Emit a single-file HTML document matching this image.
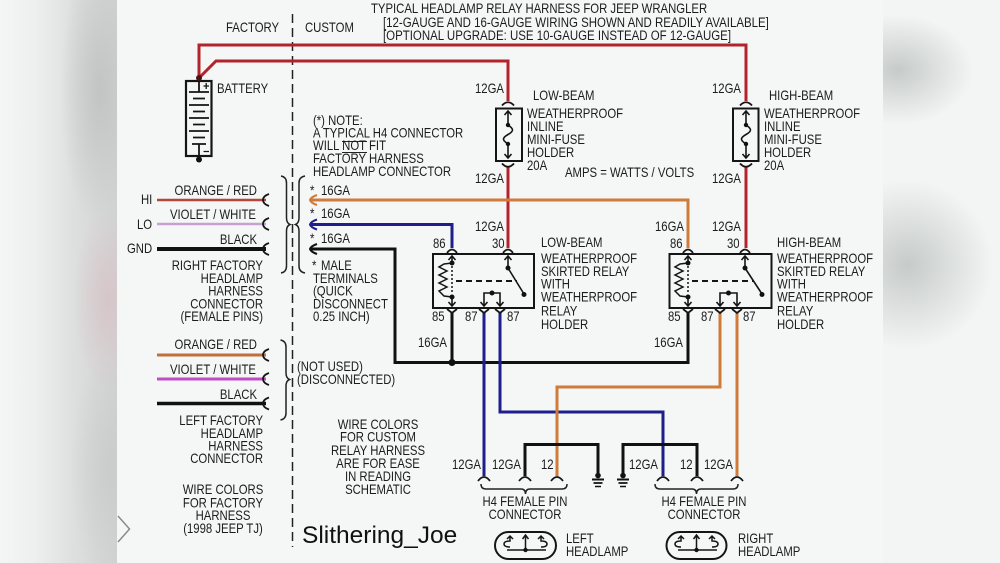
<!DOCTYPE html>
<html><head><meta charset="utf-8">
<style>
html,body{margin:0;padding:0;width:1000px;height:563px;overflow:hidden;background:#f2f5f3}
.lp{position:absolute;left:0;top:0;width:117px;height:563px;
background:
radial-gradient(ellipse 35px 90px at 108px 300px, rgba(214,196,200,.9), rgba(214,196,200,0)),
radial-gradient(ellipse 40px 140px at 100px 90px, rgba(192,193,193,.9), rgba(192,193,193,0)),
radial-gradient(ellipse 40px 120px at 110px 470px, rgba(200,201,201,.8), rgba(200,201,201,0)),
linear-gradient(90deg,#f4f5f5 0%,#eeefef 30%,#dddede 65%,#d2d3d3 100%);}
.rp{position:absolute;left:883px;top:0;width:117px;height:563px;
background:
radial-gradient(ellipse 75px 55px at 15px 70px, rgba(196,200,199,.95), rgba(196,200,199,0)),
radial-gradient(ellipse 85px 85px at 25px 265px, rgba(196,200,199,.95), rgba(196,200,199,0)),
#f2f5f3;}
svg{position:absolute;left:0;top:0}
text{font-family:"Liberation Sans",Arial,sans-serif;font-size:13.5px;fill:#1c1c1c}
.k{fill:none;stroke:#151515;stroke-width:2}
.c{fill:none;stroke:#151515;stroke-width:1.8}
</style></head><body>
<div class="lp"></div><div class="rp"></div>
<svg width="1000" height="563" viewBox="0 0 1000 563">
<rect x="117" y="0" width="766" height="563" fill="#f4f7f5"/>
<!-- chevron -->
<path d="M118 516 L129.5 529 L118 542" fill="none" stroke="#8a8a8a" stroke-width="1.5"/>
<!-- divider -->
<path d="M292.5 14 V547" stroke="#222" stroke-width="1.5" stroke-dasharray="9 5"/>

<!-- red wires -->
<g fill="none" stroke="#b3232b" stroke-width="3">
<path d="M199 78 L199 45 L746 45 L746 101"/>
<path d="M199 78 L216 61 L508 61 L508 101"/>
<path d="M508 167 V248"/>
<path d="M746 167 V248"/>
</g>
<!-- factory wires -->
<g fill="none">
<path d="M157 200 H266" stroke="#b5463c" stroke-width="2.5"/>
<path d="M157 224 H266" stroke="#c8a0d2" stroke-width="2.5"/>
<path d="M157 249 H266" stroke="#111" stroke-width="4"/>
<path d="M157 355 H266" stroke="#c0703c" stroke-width="3"/>
<path d="M157 379 H266" stroke="#c04cc6" stroke-width="3"/>
<path d="M157 403.5 H266" stroke="#111" stroke-width="3.5"/>
</g>
<!-- factory terminals -->
<g class="c" stroke-width="2">
<path d="M269 194 Q263 196 263 200 Q263 204 269 206"/>
<path d="M269 218 Q263 220 263 224 Q263 228 269 230"/>
<path d="M269 243 Q263 245 263 249 Q263 253 269 255"/>
<path d="M269 349 Q263 351 263 355 Q263 359 269 361"/>
<path d="M269 373 Q263 375 263 379 Q263 383 269 385"/>
<path d="M269 397.5 Q263 399.5 263 403.5 Q263 407.5 269 409.5"/>
</g>
<!-- braces -->
<g fill="none" stroke="#222" stroke-width="1.5">
<path d="M281 176 Q286.5 177 286.5 183 V218 Q286.5 223 290 224.5 Q286.5 226 286.5 231 V266 Q286.5 272 281 273"/>
<path d="M305 176 Q299 177 299 183 V218 Q299 223 295.5 224.5 Q299 226 299 231 V266 Q299 272 305 273"/>
<path d="M280.5 340 Q286 341 286 347 V373 Q286 378 289.5 379.5 Q286 381 286 386 V413 Q286 419 280.5 420"/>
</g>

<!-- custom wires -->
<g fill="none" stroke-width="3">
<path d="M311 200 H688 V248" stroke="#d07b3a"/>
<path d="M311 224.5 H452 V248" stroke="#1e1e8c"/>
<path d="M311 249 H395 V362.5 H688 V313" stroke="#111"/>
<path d="M452 313 V362.5" stroke="#111"/>
<path d="M484 313 V476" stroke="#1e1e8c"/>
<path d="M500 313 V412 H663 V476" stroke="#1e1e8c"/>
<path d="M720 313 V387 H557 V476" stroke="#d07b3a"/>
<path d="M737 313 V476" stroke="#d07b3a"/>
<path d="M525 476 V444.5 H598 V473" stroke="#111"/>
<path d="M623 473 V444.5 H697 V476" stroke="#111"/>
</g>
<circle cx="452" cy="362.5" r="3.5" fill="#111"/>
<!-- custom terminals -->
<g fill="none" stroke-width="2">
<path d="M317 195 Q311 197 310 200 Q311 203 317 205" stroke="#d07b3a"/>
<path d="M317 219.5 Q311 221.5 310 224.5 Q311 227.5 317 229.5" stroke="#1e1e8c"/>
<path d="M317 244 Q311 246 310 249 Q311 252 317 254" stroke="#111"/>
</g>

<!-- battery -->
<g class="k">
<rect x="186" y="81" width="25.5" height="75" stroke-width="2.2"/>
<path d="M199 81 V92 M189 92 H209 M193 98.5 H205 M189 105 H209 M193 111.5 H205 M189 118 H209 M193 124.5 H205 M189 131 H209 M193 137.5 H205 M192 144 H206 M199 144 V156" stroke-width="1.8"/>
<path d="M203.5 86 H209 M206.2 83 V89 M203.5 151.5 H209" stroke-width="1.3"/>
</g>
<circle cx="199" cy="78" r="3" fill="#4a1215"/>
<circle cx="199" cy="159.5" r="3" fill="#111"/>

<!-- fuses -->
<g class="k">
<rect x="496" y="108.5" width="26" height="52.5"/>
<path class="c" d="M502 105.5 Q508 99 514 105.5 M502 163.5 Q508 170 514 163.5"/>
<path stroke-width="1.6" d="M508 111 V125 M504.5 115 L508 111 L511.5 115 M508 125 C514 129 514 131 508 134.5 C502 138 502 140 508 144 M508 144 V158 M504.5 154 L508 158 L511.5 154"/>
<rect x="733" y="108.5" width="25.5" height="52.5"/>
<path class="c" d="M740 105.5 Q746 99 752 105.5 M740 163.5 Q746 170 752 163.5"/>
<path stroke-width="1.6" d="M746 111 V125 M742.5 115 L746 111 L749.5 115 M746 125 C752 129 752 131 746 134.5 C740 138 740 140 746 144 M746 144 V158 M742.5 154 L746 158 L749.5 154"/>
</g>
<g fill="#111">
<circle cx="508" cy="125" r="2.2"/><circle cx="508" cy="144" r="2.2"/>
<circle cx="746" cy="125" r="2.2"/><circle cx="746" cy="144" r="2.2"/>
</g>

<!-- low relay -->
<g class="k">
<rect x="433" y="254" width="101" height="54"/>
<path class="c" d="M447 253 Q452 246 457 253 M503 253 Q508 246 513 253"/>
<path class="c" d="M447 309 L452 313 L457 309 M479 309 L484 313 L489 309 M495 309 L500 313 L505 309"/>
<path stroke-width="1.6" d="M452 256 V263 M448.5 260 L452 256 L455.5 260"/>
<path stroke-width="1.5" d="M452 263 L444 264 L439 267 L447 271 L439 275 L447 279 L439 283 L447 287 L439 291 L444 296 L452 297"/>
<path stroke-width="1.5" stroke-dasharray="2 2" d="M452 266 V294"/>
<path stroke-width="1.6" d="M452 297 V306 M448.5 302 L452 306 L455.5 302"/>
<path stroke-dasharray="6 4" d="M456 281 H517"/>
<path stroke-width="1.6" d="M508 256 V268 M504.5 260 L508 256 L511.5 260 M508 268 L524 294"/>
<path stroke-width="1.6" d="M484 306 V293 H500 V306 M480.5 302 L484 306 L487.5 302 M496.5 302 L500 306 L503.5 302"/>
</g>
<g fill="#111">
<circle cx="452" cy="263" r="2.5"/><circle cx="452" cy="297" r="2.5"/>
<circle cx="508" cy="268" r="2.5"/><circle cx="524" cy="294.5" r="2.5"/>
<circle cx="492" cy="293" r="2.5"/>
</g>
<!-- high relay -->
<g class="k">
<rect x="669.5" y="254" width="102" height="54"/>
<path class="c" d="M683 253 Q688 246 693 253 M740 253 Q745 246 750 253"/>
<path class="c" d="M683 309 L688 313 L693 309 M715 309 L720 313 L725 309 M732 309 L737 313 L742 309"/>
<path stroke-width="1.6" d="M688 256 V263 M684.5 260 L688 256 L691.5 260"/>
<path stroke-width="1.5" d="M688 263 L680 264 L675 267 L683 271 L675 275 L683 279 L675 283 L683 287 L675 291 L680 296 L688 297"/>
<path stroke-width="1.5" stroke-dasharray="2 2" d="M688 266 V294"/>
<path stroke-width="1.6" d="M688 297 V306 M684.5 302 L688 306 L691.5 302"/>
<path stroke-dasharray="6 4" d="M692 281 H753"/>
<path stroke-width="1.6" d="M745 256 V268 M741.5 260 L745 256 L748.5 260 M745 268 L762 294"/>
<path stroke-width="1.6" d="M720 306 V293 H737 V306 M716.5 302 L720 306 L723.5 302 M733.5 302 L737 306 L740.5 302"/>
</g>
<g fill="#111">
<circle cx="688" cy="263" r="2.5"/><circle cx="688" cy="297" r="2.5"/>
<circle cx="745" cy="268" r="2.5"/><circle cx="762" cy="294.5" r="2.5"/>
<circle cx="728.5" cy="293" r="2.5"/>
</g>

<!-- H4 caps -->
<path class="c" d="M478 481 Q484 473 490 481 M519 481 Q525 473 531 481 M551 481 Q557 473 563 481 M657 481 Q663 473 669 481 M691 481 Q697 473 703 481 M731 481 Q737 473 743 481"/>
<!-- braces under H4 -->
<g fill="none" stroke="#222" stroke-width="1.5">
<path d="M481 484 Q481 489 486 489 H521 Q525.5 489 525.5 494 Q525.5 489 530 489 H562 Q567 489 567 484"/>
<path d="M655 484 Q655 489 660 489 H692 Q696.5 489 696.5 494 Q696.5 489 701 489 H733 Q738 489 738 484"/>
</g>
<!-- grounds -->
<g fill="#111"><circle cx="598" cy="475.5" r="2.8"/><circle cx="623" cy="475.5" r="2.8"/></g>
<g stroke="#111" fill="none">
<path stroke-width="2" d="M592 479.5 H604 M617 479.5 H629"/>
<path stroke-width="1.8" d="M593.5 483 H602.5 M618.5 483 H627.5"/>
<path stroke-width="1.5" d="M595 486.5 H601 M620 486.5 H626"/>
</g>
<!-- headlamps -->
<g class="k">
<rect x="495" y="532" width="61" height="27" rx="13.5"/>
<path stroke-width="1.5" d="M525.5 536 V550 M522.5 539 L525.5 535 L528.5 539 M507 550 H546 M510 536 V541 Q504 541 504 544 Q504 547 510 547 M507 539 L510 536 L513 539 M541 536 V541 Q547 541 547 544 Q547 547 541 547 M538 539 L541 536 L544 539"/>
<rect x="666.5" y="532" width="60" height="27" rx="13.5"/>
<path stroke-width="1.5" d="M696.5 536 V550 M693.5 539 L696.5 535 L699.5 539 M678 550 H717 M681 536 V541 Q675 541 675 544 Q675 547 681 547 M678 539 L681 536 L684 539 M712 536 V541 Q718 541 718 544 Q718 547 712 547 M709 539 L712 536 L715 539"/>
</g>
<g fill="#111"><circle cx="525.5" cy="550" r="2.2"/><circle cx="696.5" cy="550" r="2.2"/></g>
<!-- NOT lines -->
<path d="M342 141.5 H367 M342 152.5 H367" stroke="#222" stroke-width="1"/>

<!-- TEXT -->
<text transform="translate(371 13) scale(.84 1)">TYPICAL HEADLAMP RELAY HARNESS FOR JEEP WRANGLER</text>
<text transform="translate(383 27) scale(.85 1)">[12-GAUGE AND 16-GAUGE WIRING SHOWN AND READILY AVAILABLE]</text>
<text transform="translate(383 40) scale(.85 1)">[OPTIONAL UPGRADE: USE 10-GAUGE INSTEAD OF 12-GAUGE]</text>
<text transform="translate(226 32) scale(.84 1)">FACTORY</text>
<text transform="translate(305 32) scale(.84 1)">CUSTOM</text>
<text transform="translate(217 93) scale(.84 1)">BATTERY</text>
<text transform="translate(475 93) scale(.84 1)">12GA</text>
<text transform="translate(712 93) scale(.84 1)">12GA</text>
<text transform="translate(533 100) scale(.84 1)">LOW-BEAM</text>
<text transform="translate(769 100) scale(.84 1)">HIGH-BEAM</text>
<text transform="translate(527 118) scale(.84 1)">WEATHERPROOF</text>
<text transform="translate(527 131) scale(.84 1)">INLINE</text>
<text transform="translate(527 144) scale(.84 1)">MINI-FUSE</text>
<text transform="translate(527 157) scale(.84 1)">HOLDER</text>
<text transform="translate(527 170) scale(.84 1)">20A</text>
<text transform="translate(764 118) scale(.84 1)">WEATHERPROOF</text>
<text transform="translate(764 131) scale(.84 1)">INLINE</text>
<text transform="translate(764 144) scale(.84 1)">MINI-FUSE</text>
<text transform="translate(764 157) scale(.84 1)">HOLDER</text>
<text transform="translate(764 170) scale(.84 1)">20A</text>
<text transform="translate(475 183) scale(.84 1)">12GA</text>
<text transform="translate(712 183) scale(.84 1)">12GA</text>
<text transform="translate(565 177) scale(.84 1)">AMPS = WATTS / VOLTS</text>

<text transform="translate(313 125) scale(.84 1)">(*) NOTE:</text>
<text transform="translate(313 137.5) scale(.84 1)">A TYPICAL H4 CONNECTOR</text>
<text transform="translate(313 150) scale(.84 1)">WILL NOT FIT</text>
<text transform="translate(313 163) scale(.84 1)">FACTORY HARNESS</text>
<text transform="translate(313 176) scale(.84 1)">HEADLAMP CONNECTOR</text>

<text transform="translate(257 195) scale(.84 1)" text-anchor="end">ORANGE / RED</text>
<text transform="translate(141 204) scale(.84 1)">HI</text>
<text transform="translate(256 219) scale(.84 1)" text-anchor="end">VIOLET / WHITE</text>
<text transform="translate(137 229) scale(.84 1)">LO</text>
<text transform="translate(257 244) scale(.84 1)" text-anchor="end">BLACK</text>
<text transform="translate(127 253) scale(.84 1)">GND</text>
<text transform="translate(263 270) scale(.84 1)" text-anchor="end">RIGHT FACTORY</text>
<text transform="translate(263 283) scale(.84 1)" text-anchor="end">HEADLAMP</text>
<text transform="translate(263 295.5) scale(.84 1)" text-anchor="end">HARNESS</text>
<text transform="translate(263 308.5) scale(.84 1)" text-anchor="end">CONNECTOR</text>
<text transform="translate(263 321) scale(.84 1)" text-anchor="end">(FEMALE PINS)</text>

<text transform="translate(310 195) scale(.84 1)">*</text>
<text transform="translate(321 195) scale(.84 1)">16GA</text>
<text transform="translate(310 218) scale(.84 1)">*</text>
<text transform="translate(321 218) scale(.84 1)">16GA</text>
<text transform="translate(310 243) scale(.84 1)">*</text>
<text transform="translate(321 243) scale(.84 1)">16GA</text>
<text transform="translate(312 270) scale(.84 1)">*</text>
<text transform="translate(321 270) scale(.84 1)">MALE</text>
<text transform="translate(313 283) scale(.84 1)">TERMINALS</text>
<text transform="translate(313 295.5) scale(.84 1)">(QUICK</text>
<text transform="translate(313 308.5) scale(.84 1)">DISCONNECT</text>
<text transform="translate(313 321) scale(.84 1)">0.25 INCH)</text>

<text transform="translate(475 231) scale(.84 1)">12GA</text>
<text transform="translate(433 248) scale(.84 1)">86</text>
<text transform="translate(492 248) scale(.84 1)">30</text>
<text transform="translate(432 321) scale(.84 1)">85</text>
<text transform="translate(465 321) scale(.84 1)">87</text>
<text transform="translate(507 321) scale(.84 1)">87</text>
<text transform="translate(418 347) scale(.84 1)">16GA</text>
<text transform="translate(541 247) scale(.84 1)">LOW-BEAM</text>
<text transform="translate(541 263) scale(.84 1)">WEATHERPROOF</text>
<text transform="translate(541 276) scale(.84 1)">SKIRTED RELAY</text>
<text transform="translate(541 288.5) scale(.84 1)">WITH</text>
<text transform="translate(541 301.5) scale(.84 1)">WEATHERPROOF</text>
<text transform="translate(541 315.5) scale(.84 1)">RELAY</text>
<text transform="translate(541 329) scale(.84 1)">HOLDER</text>

<text transform="translate(655 231) scale(.84 1)">16GA</text>
<text transform="translate(712 231) scale(.84 1)">12GA</text>
<text transform="translate(670 248) scale(.84 1)">86</text>
<text transform="translate(727 248) scale(.84 1)">30</text>
<text transform="translate(668 321) scale(.84 1)">85</text>
<text transform="translate(701 321) scale(.84 1)">87</text>
<text transform="translate(743 321) scale(.84 1)">87</text>
<text transform="translate(654 347) scale(.84 1)">16GA</text>
<text transform="translate(777 247) scale(.84 1)">HIGH-BEAM</text>
<text transform="translate(777 263) scale(.84 1)">WEATHERPROOF</text>
<text transform="translate(777 276) scale(.84 1)">SKIRTED RELAY</text>
<text transform="translate(777 288.5) scale(.84 1)">WITH</text>
<text transform="translate(777 301.5) scale(.84 1)">WEATHERPROOF</text>
<text transform="translate(777 315.5) scale(.84 1)">RELAY</text>
<text transform="translate(777 329) scale(.84 1)">HOLDER</text>

<text transform="translate(257 349) scale(.84 1)" text-anchor="end">ORANGE / RED</text>
<text transform="translate(256 374) scale(.84 1)" text-anchor="end">VIOLET / WHITE</text>
<text transform="translate(257 399) scale(.84 1)" text-anchor="end">BLACK</text>
<text transform="translate(297 371) scale(.84 1)">(NOT USED)</text>
<text transform="translate(297 384) scale(.84 1)">(DISCONNECTED)</text>
<text transform="translate(263 425) scale(.84 1)" text-anchor="end">LEFT FACTORY</text>
<text transform="translate(263 438) scale(.84 1)" text-anchor="end">HEADLAMP</text>
<text transform="translate(263 450.5) scale(.84 1)" text-anchor="end">HARNESS</text>
<text transform="translate(263 463) scale(.84 1)" text-anchor="end">CONNECTOR</text>
<text transform="translate(223 494) scale(.84 1)" text-anchor="middle">WIRE COLORS</text>
<text transform="translate(223 507.5) scale(.84 1)" text-anchor="middle">FOR FACTORY</text>
<text transform="translate(223 520) scale(.84 1)" text-anchor="middle">HARNESS</text>
<text transform="translate(223 533) scale(.84 1)" text-anchor="middle">(1998 JEEP TJ)</text>

<text transform="translate(378 429) scale(.84 1)" text-anchor="middle">WIRE COLORS</text>
<text transform="translate(378 441.5) scale(.84 1)" text-anchor="middle">FOR CUSTOM</text>
<text transform="translate(378 455) scale(.84 1)" text-anchor="middle">RELAY HARNESS</text>
<text transform="translate(378 468) scale(.84 1)" text-anchor="middle">ARE FOR EASE</text>
<text transform="translate(378 481) scale(.84 1)" text-anchor="middle">IN READING</text>
<text transform="translate(378 494) scale(.84 1)" text-anchor="middle">SCHEMATIC</text>

<text x="302" y="543" style="font-size:24.5px;fill:#111">Slithering_Joe</text>

<text transform="translate(452 469) scale(.84 1)">12GA</text>
<text transform="translate(492 469) scale(.84 1)">12GA</text>
<text transform="translate(541 469) scale(.84 1)">12</text>
<text transform="translate(629 469) scale(.84 1)">12GA</text>
<text transform="translate(680 469) scale(.84 1)">12</text>
<text transform="translate(704 469) scale(.84 1)">12GA</text>
<text transform="translate(525 506) scale(.84 1)" text-anchor="middle">H4 FEMALE PIN</text>
<text transform="translate(525 519) scale(.84 1)" text-anchor="middle">CONNECTOR</text>
<text transform="translate(704 506) scale(.84 1)" text-anchor="middle">H4 FEMALE PIN</text>
<text transform="translate(704 519) scale(.84 1)" text-anchor="middle">CONNECTOR</text>
<text transform="translate(566 543) scale(.84 1)">LEFT</text>
<text transform="translate(566 556) scale(.84 1)">HEADLAMP</text>
<text transform="translate(738 543) scale(.84 1)">RIGHT</text>
<text transform="translate(738 556) scale(.84 1)">HEADLAMP</text>
</svg>
</body></html>
